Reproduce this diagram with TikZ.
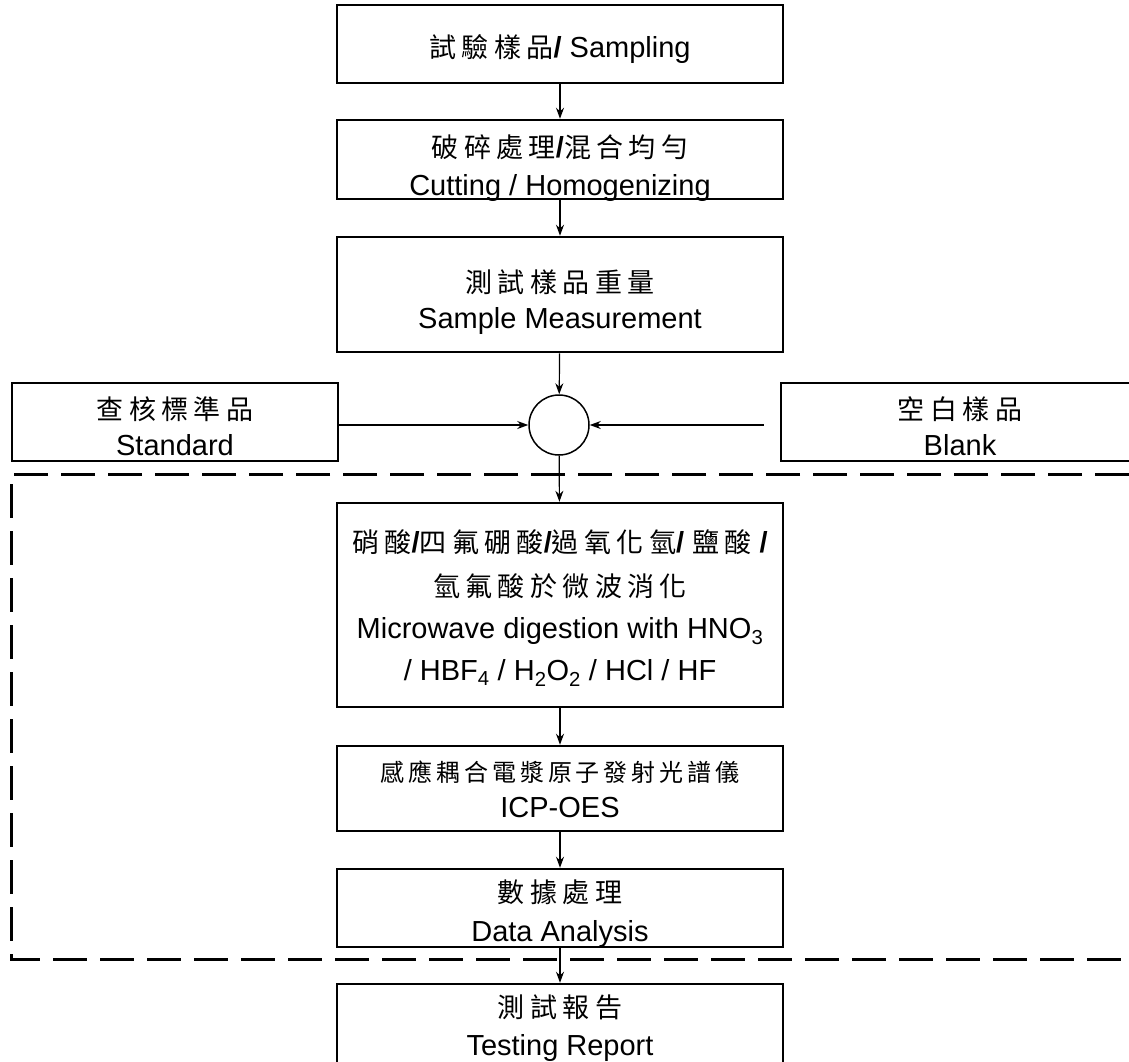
\documentclass[tikz,border=0pt]{standalone}
\usepackage{fontspec}
\setmainfont{Liberation Sans}
\newfontfamily\cjk{Noto Sans CJK TC}
\usetikzlibrary{arrows.meta}

% 中文字距
\def\zhgap{.2em}
\def\zhloop#1{\ifx#1\relax\else#1\kern\zhgap\expandafter\zhloop\fi}
\newcommand\zh[2][27]{{\fontsize{#1}{36}\cjk\zhloop#2\relax\unkern}}
\newcommand\zsl{{\bfseries/}}

\begin{document}
\begin{tikzpicture}[x=1pt, y=-1pt,
    box/.style={draw, line width=2.5pt, align=center, inner sep=0pt,
        minimum width=446pt, text depth=0pt,
        font=\fontsize{29}{36}\selectfont},
    arr/.style={-{Stealth[length=11pt, width=8pt]}, line width=1.2pt}]
    \useasboundingbox (0, 0) rectangle (1129, 1061);

    % 前處理
    \node[box, minimum height=78pt, text height=27pt] (samp) at (560, 44) {\zh{試驗樣品}\zsl{} Sampling};
    \node[box, minimum height=79pt, text height=72pt, font=\fontsize{29}{38}\selectfont] (cut) at (560, 159.5)
        {\zh{破碎處理}\zsl{}\zh{混合均勻}\\Cutting / Homogenizing};
    \node[box, minimum height=115pt, text height=68pt] (meas) at (560, 294.5) {\zh{測試樣品重量}\\Sample Measurement};

    % 標準品, 空白
    \node[draw, circle, line width=1.5pt, minimum size=60pt, inner sep=0pt] (mix) at (559, 425) {};
    \node[box, minimum width=326pt, minimum height=78pt, text height=67pt] (std) at (175, 422) {\zh{查核標準品}\\Standard};
    \node[box, minimum width=358pt, minimum height=78pt, text height=67pt] (blank) at (960, 422) {\zh{空白樣品}\\Blank};

    % 虛線框
    \draw[line width=3pt, dash pattern=on 34pt off 13pt]
        (1129, 474) -- (11, 474) -- (11, 959) -- (1129, 959);

    % 消化, 分析
    \node[box, minimum height=204pt, text height=151pt, font=\fontsize{29}{42}\selectfont] (micro) at (560, 605)
        {\zh{硝酸}\zsl{}\zh{四氟硼酸}\zsl{}\zh{過氧化氫}\zsl{} \zh{鹽酸} \zsl\\[2pt]
         \zh{氫氟酸於微波消化}\\
         Microwave digestion with HNO\textsubscript{3}\\
         / HBF\textsubscript{4} / H\textsubscript{2}O\textsubscript{2} / HCl / HF};
    \node[box, minimum height=85pt, text height=58pt] (icp) at (560, 788.5)
        {{\def\zhgap{.16em}\zh[24]{感應耦合電漿原子發射光譜儀}}\\ICP-OES};
    \node[box, minimum height=78pt, text height=67pt, font=\fontsize{29}{39}\selectfont] (data) at (560, 908)
        {\zh{數據處理}\\Data Analysis};
    \node[box, minimum height=79pt, text height=63pt, font=\fontsize{29}{38}\selectfont] (rep) at (560, 1023.5)
        {\zh{測試報告}\\Testing Report};

    % 箭頭
    \draw[arr] (samp) -- (cut);
    \draw[arr] (cut) -- (meas);
    \draw[arr] (meas) -- (mix);
    \draw[arr] (mix.west -| std.east) -- (mix.west);
    \draw[arr, shorten <=16pt] (mix.east -| blank.west) -- (mix.east);
    \draw[arr] (mix) -- (micro);
    \draw[arr] (micro) -- (icp);
    \draw[arr] (icp) -- (data);
    \draw[arr] (data) -- (rep);
\end{tikzpicture}
\end{document}
